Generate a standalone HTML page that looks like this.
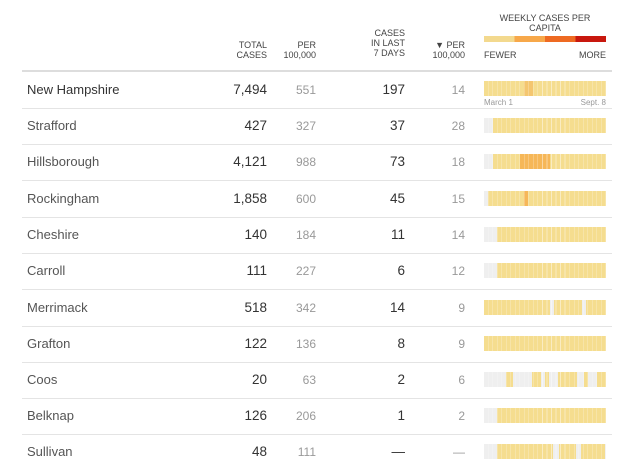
<!DOCTYPE html>
<html><head><meta charset="utf-8"><style>
body{margin:0;width:640px;height:468px;background:#fff;font-family:"Liberation Sans",sans-serif;position:relative;overflow:hidden}
.a{position:absolute;white-space:nowrap}
.h{font-size:9px;color:#444;line-height:10px;text-align:right}
.ln{position:absolute;left:22px;width:590px;height:1px;background:#e4e4e4}
.nm{position:absolute;left:27px;font-size:13px;color:#555}
.tc{position:absolute;right:373px;font-size:13.5px;color:#333;text-align:right}
.pc{position:absolute;right:324px;font-size:12px;color:#999;text-align:right}
.c7{position:absolute;right:235px;font-size:13.5px;color:#333;text-align:right}
.p7{position:absolute;right:175px;font-size:12px;color:#999;text-align:right}
.bar{position:absolute;left:484px;width:122px;height:15px}
.bar::after{content:"";position:absolute;inset:0;background:repeating-linear-gradient(to right,transparent 0 3.9px,rgba(255,255,255,.45) 3.9px 4.52px)}
</style></head><body>
<div class="a h" style="right:373px;top:40px">TOTAL<br>CASES</div>
<div class="a h" style="right:324px;top:40px">PER<br>100,000</div>
<div class="a h" style="right:235px;top:28px">CASES<br>IN LAST<br>7 DAYS</div>
<div class="a h" style="right:175px;top:40px">▼ PER<br>100,000</div>
<div class="a h" style="left:484px;width:122px;text-align:center;top:13px">WEEKLY CASES PER<br>CAPITA</div>
<div class="a" style="left:484px;top:36px;width:122px;height:6px;background:linear-gradient(to right,#f3d98e 0 30.5px,#f7a84a 30.5px 61px,#ee6a22 61px 91.5px,#c8180e 91.5px)"></div>
<div class="a" style="left:484px;top:50px;font-size:9px;color:#444">FEWER</div>
<div class="a" style="right:34px;top:50px;font-size:9px;color:#444">MORE</div>
<div class="ln" style="top:70px;height:2px;background:#ddd"></div>

<div class="ln" style="top:108px"></div><div class="ln" style="top:144px"></div><div class="ln" style="top:180px"></div><div class="ln" style="top:217px"></div><div class="ln" style="top:253px"></div><div class="ln" style="top:289px"></div><div class="ln" style="top:326px"></div><div class="ln" style="top:362px"></div><div class="ln" style="top:398px"></div><div class="ln" style="top:434px"></div>

<div class="nm" style="top:82px;color:#333">New Hampshire</div><div class="tc" style="top:82px">7,494</div><div class="pc" style="top:83px">551</div><div class="c7" style="top:82px">197</div><div class="p7" style="top:83px">14</div>
<div class="bar" style="top:81px;background:linear-gradient(to right,#f5dd8f 0 40px,#f4c66f 40px 49px,#f5dd8f 49px)"></div>
<div class="a" style="left:484px;top:98px;font-size:8px;color:#999">March 1</div>
<div class="a" style="right:34px;top:98px;font-size:8px;color:#999">Sept. 8</div>

<div class="nm" style="top:118px">Strafford</div><div class="tc" style="top:118px">427</div><div class="pc" style="top:119px">327</div><div class="c7" style="top:118px">37</div><div class="p7" style="top:119px">28</div>
<div class="bar" style="top:118px;background:linear-gradient(to right,#efefef 0 9px,#f5dd8f 9px)"></div>

<div class="nm" style="top:154px">Hillsborough</div><div class="tc" style="top:154px">4,121</div><div class="pc" style="top:155px">988</div><div class="c7" style="top:154px">73</div><div class="p7" style="top:155px">18</div>
<div class="bar" style="top:154px;background:linear-gradient(to right,#efefef 0 9px,#f5dd8f 9px 36px,#f6b758 36px 66px,#f5dd8f 66px)"></div>

<div class="nm" style="top:191px">Rockingham</div><div class="tc" style="top:191px">1,858</div><div class="pc" style="top:192px">600</div><div class="c7" style="top:191px">45</div><div class="p7" style="top:192px">15</div>
<div class="bar" style="top:191px;background:linear-gradient(to right,#efefef 0 4px,#f5dd8f 4px 40px,#f6b758 40px 44px,#f5dd8f 44px)"></div>

<div class="nm" style="top:227px">Cheshire</div><div class="tc" style="top:227px">140</div><div class="pc" style="top:228px">184</div><div class="c7" style="top:227px">11</div><div class="p7" style="top:228px">14</div>
<div class="bar" style="top:227px;background:linear-gradient(to right,#efefef 0 13px,#f5dd8f 13px)"></div>

<div class="nm" style="top:263px">Carroll</div><div class="tc" style="top:263px">111</div><div class="pc" style="top:264px">227</div><div class="c7" style="top:263px">6</div><div class="p7" style="top:264px">12</div>
<div class="bar" style="top:263px;background:linear-gradient(to right,#efefef 0 13px,#f5dd8f 13px)"></div>

<div class="nm" style="top:300px">Merrimack</div><div class="tc" style="top:300px">518</div><div class="pc" style="top:301px">342</div><div class="c7" style="top:300px">14</div><div class="p7" style="top:301px">9</div>
<div class="bar" style="top:300px;background:linear-gradient(to right,#f5dd8f 0 66px,#efefef 66px 70px,#f5dd8f 70px 98px,#efefef 98px 102px,#f5dd8f 102px)"></div>

<div class="nm" style="top:336px">Grafton</div><div class="tc" style="top:336px">122</div><div class="pc" style="top:337px">136</div><div class="c7" style="top:336px">8</div><div class="p7" style="top:337px">9</div>
<div class="bar" style="top:336px;background:#f5dd8f"></div>

<div class="nm" style="top:372px">Coos</div><div class="tc" style="top:372px">20</div><div class="pc" style="top:373px">63</div><div class="c7" style="top:372px">2</div><div class="p7" style="top:373px">6</div>
<div class="bar" style="top:372px;background:linear-gradient(to right,#efefef 0 22px,#f5dd8f 22px 29px,#efefef 29px 48px,#f5dd8f 48px 57px,#efefef 57px 61px,#f5dd8f 61px 65px,#efefef 65px 74px,#f5dd8f 74px 93px,#efefef 93px 100px,#f5dd8f 100px 104px,#efefef 104px 113px,#f5dd8f 113px)"></div>

<div class="nm" style="top:408px">Belknap</div><div class="tc" style="top:408px">126</div><div class="pc" style="top:409px">206</div><div class="c7" style="top:408px">1</div><div class="p7" style="top:409px">2</div>
<div class="bar" style="top:408px;background:linear-gradient(to right,#efefef 0 13px,#f5dd8f 13px)"></div>

<div class="nm" style="top:444px">Sullivan</div><div class="tc" style="top:444px">48</div><div class="pc" style="top:445px">111</div><div class="c7" style="top:444px">—</div><div class="p7" style="top:445px">—</div>
<div class="bar" style="top:444px;background:linear-gradient(to right,#efefef 0 13px,#f5dd8f 13px 69px,#efefef 69px 75px,#f5dd8f 75px 92px,#efefef 92px 97px,#f5dd8f 97px 121px,#efefef 121px)"></div>
</body></html>
